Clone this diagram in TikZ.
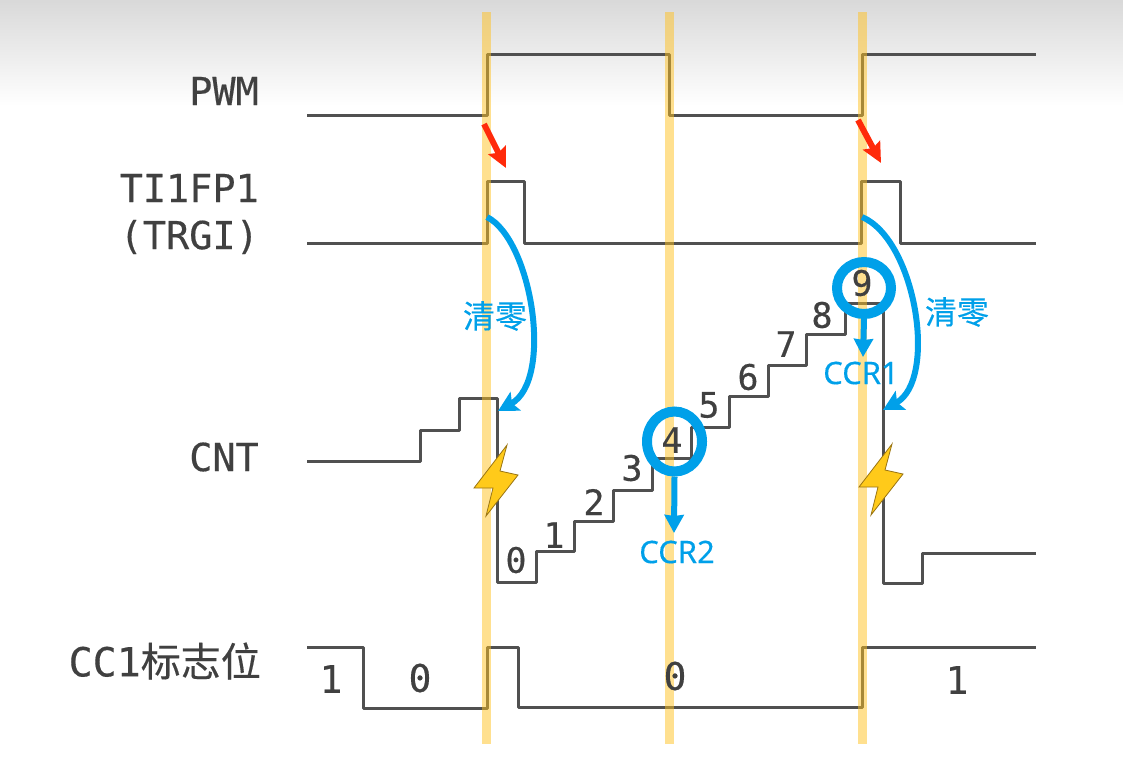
\documentclass[tikz,border=0pt]{standalone}
\usepackage{fontspec}
\setmonofont[FakeBold=0.4]{DejaVu Sans Mono}
\setsansfont[FakeBold=0.3]{Noto Sans}
\newfontfamily\cjk[FakeBold=0.3]{Noto Sans CJK SC}
\usetikzlibrary{arrows.meta,shapes.geometric}
\definecolor{wave}{HTML}{505050}
\definecolor{txt}{HTML}{404040}
\definecolor{cyanmark}{HTML}{00A0E9}
\definecolor{bar}{HTML}{FFC11F}
\definecolor{hot}{HTML}{FF2A0A}

\begin{document}
\begin{tikzpicture}[x=1pt, y=-1pt,
    sig/.style = {draw=wave, line width=3pt, line join=round},
    strip/.style = {fill=bar, opacity=0.5},
    signame/.style = {text=txt, font=\fontsize{38.5}{40}\selectfont\ttfamily, anchor=east, inner sep=0pt},
    num/.style = {text=txt, font=\fontsize{35}{36}\selectfont\ttfamily, inner sep=0pt},
    big/.style = {text=txt, font=\fontsize{38}{39}\selectfont\ttfamily, inner sep=0pt},
    ccrtag/.style = {text=cyanmark, font=\fontsize{31}{32}\selectfont\sffamily, inner sep=0pt},
    zerotag/.style = {text=cyanmark, font=\fontsize{32}{33}\selectfont\cjk, inner sep=0pt},
    ring/.style = {draw=cyanmark, line width=10pt, ellipse, inner sep=0pt},
    hit/.style = {-{Stealth[length=18pt, width=19pt, inset=1pt]}, draw=cyanmark, line width=6pt},
    fall/.style = {-{Stealth[length=20pt, width=21pt, inset=4pt]}, draw=cyanmark, line width=6pt},
    push/.style = {-{Stealth[length=20pt, width=19pt, inset=3pt]}, draw=hot, line width=6pt},
    bolt/.pic = {\fill[fill=bar!85!yellow, draw=black!40!bar, line width=0.8pt]
        (12,-42) -- (5,-16) -- (23,-12) -- (-9,29) -- (-2,1) -- (-21,1) -- cycle;}]
    \useasboundingbox (0,0) rectangle (1123,764);

    % top shade
    \shade[top color=black!15, bottom color=white] (0,0) rectangle (1123,106);

    % waves
    \draw[sig] (307,115) -- (487,115) -- (487,54) -- (669,54) -- (669,115) -- (862,115) -- (862,54) -- (1036,54);
    \draw[sig] (307,243) -- (487,243) -- (487,181) -- (524,181) -- (524,243) -- (861,243) -- (861,181) -- (900,181) -- (900,243) -- (1036,243);
    \draw[sig] (307,461) -- (420,461) -- (420,430) -- (459,430) -- (459,398) -- (497,398) -- (497,582) -- (536,582) -- (536,551) -- (574,551) -- (574,521) -- (613,521) -- (613,490) -- (652,490) -- (652,458) -- (691,458) -- (691,427) -- (729,427) -- (729,396) -- (768,396) -- (768,365) -- (806,365) -- (806,334) -- (845,334) -- (845,303) -- (883,303) -- (883,583) -- (922,583) -- (922,553) -- (1036,553);
    \draw[sig] (307,647) -- (363,647) -- (363,708) -- (487,708) -- (487,647) -- (518,647) -- (518,707) -- (862,707) -- (862,647) -- (1036,647);

    % edges
    \fill[strip] (482,12) rectangle (491,744);
    \fill[strip] (665,12) rectangle (674,744);
    \fill[strip] (858,12) rectangle (867,744);

    % names
    \node[signame] (pwm) at (259,91) {PWM};
    \node[signame] (ti) at (259,188) {TI1FP1};
    \node[signame] (trgi) at (259,237) {(TRGI)};
    \node[signame] (cnt) at (259,457) {CNT};
    \node[signame, font=\fontsize{40}{42}\selectfont\ttfamily] (cc) at (261,661) {CC1\cjk 标志位};

    % counter values
    \node[num] (n0) at (516,560) {0};
    \node[num] (n1) at (554,535) {1};
    \node[num] (n2) at (594,502) {2};
    \node[num] (n3) at (632,468) {3};
    \node[num] (n4) at (672,440) {4};
    \node[num] (n5) at (709,405) {5};
    \node[num] (n6) at (748,377) {6};
    \node[num] (n7) at (786,344) {7};
    \node[num] (n8) at (822,315) {8};
    \node[num] (n9) at (862,283) {9};

    % flag values
    \node[big] (f1) at (331,679) {1};
    \node[big] (f2) at (420,678) {0};
    \node[big] (f3) at (675,676) {0};
    \node[big] (f4) at (957,680) {1};

    % red arrows
    \coordinate (r1a) at (484,124);
    \coordinate (r1b) at (506,168);
    \coordinate (r2a) at (858,120);
    \coordinate (r2b) at (881,163);
    \draw[push] (r1a) -- (r1b);
    \draw[push] (r2a) -- (r2b);

    % clear arrows
    \coordinate (c1a) at (487,217);
    \coordinate (c1b) at (498,411);
    \coordinate (c2a) at (862,217);
    \coordinate (c2b) at (883,410);
    \draw[fall] (c1a) .. controls (532,240) and (554,380) .. (c1b);
    \draw[fall] (c2a) .. controls (916,240) and (938,380) .. (c2b);
    \node[zerotag] (z1) at (495,316) {清零};
    \node[zerotag] (z2) at (957,312) {清零};

    % lightning
    \pic at (495,487) {bolt};
    \pic at (880,486) {bolt};

    % compare marks
    \node[ring, minimum width=55pt, minimum height=60pt] (r4) at (674.5,441.5) {};
    \node[ring, minimum width=54pt, minimum height=52pt] (r9) at (864,288) {};
    \coordinate (a4) at (674,533);
    \coordinate (a9) at (863,357);
    \draw[hit] (r4.south) -- (a4);
    \draw[hit] (r9.south) -- (a9);
    \node[ccrtag] (ccr2) at (677,552) {CCR2};
    \node[ccrtag] (ccr1) at (861,373) {CCR1};
\end{tikzpicture}
\end{document}
